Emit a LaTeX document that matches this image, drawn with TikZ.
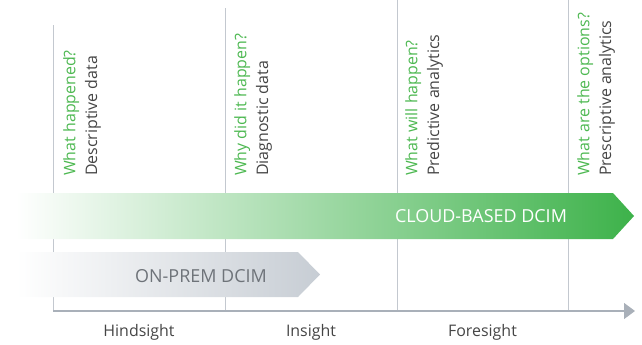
\documentclass[tikz,border=0pt]{standalone}
\usepackage{fontspec}
\setmainfont{Open Sans}
\usetikzlibrary{arrows.meta}

\definecolor{dcimgreen}{HTML}{3DB24A}
\definecolor{qgreen}{HTML}{4DB851}
\definecolor{txtgray}{HTML}{454545}
\definecolor{prembar}{HTML}{C7CDD4}
\definecolor{premtxt}{HTML}{6E7379}
\definecolor{gridline}{HTML}{C3C8CF}
\definecolor{axisgray}{HTML}{A9B0B9}

\begin{document}
\begin{tikzpicture}[x=1bp, y=-1bp,
    qlabel/.style={rotate=90, align=left, inner sep=0pt, anchor=north west, text=txtgray, font=\fontsize{16}{22}\selectfont},
    stage/.style={text=txtgray, font=\fontsize{16}{20}\selectfont},
    grid/.style={draw=gridline, line width=0.9bp}]
        \useasboundingbox (0,0) rectangle (642,344);

        \coordinate (t1) at (53,25);
        \coordinate (t2) at (225,8);
        \coordinate (t3) at (397,0);
        \coordinate (t4) at (568,0);
        \coordinate (b1) at (53,311);
        \coordinate (b2) at (225,311);
        \coordinate (b3) at (397,311);
        \coordinate (b4) at (568,311);
        \coordinate (axisend) at (635,311);

        \draw[grid] (t1) -- (b1);
        \draw[grid] (t2) -- (b2);
        \draw[grid] (t3) -- (b3);
        \draw[grid] (t4) -- (b4);
        \draw[draw=axisgray, line width=1.2bp, -{Triangle[length=11bp, width=16bp]}] (b1) -- (axisend);

        \shade[left color=white, right color=dcimgreen] (16,193) -- (613,193) -- (634,216) -- (613,239) -- (16,239) -- cycle;
        \shade[left color=white, right color=prembar] (16,252) -- (298,252) -- (320,274.5) -- (298,297) -- (16,297) -- cycle;

        \node[text=white, font=\fontsize{18}{20}\selectfont] (cloud) at (481,216) {CLOUD-BASED DCIM};
        \node[text=premtxt, font=\fontsize{18}{20}\selectfont] (onprem) at (201,276) {ON-PREM DCIM};

        \node[qlabel] (q1) at (63,176) {\textcolor{qgreen}{What happened?}\\Descriptive data};
        \node[qlabel] (q2) at (234,176) {\textcolor{qgreen}{Why did it happen?}\\Diagnostic data};
        \node[qlabel] (q3) at (405,176) {\textcolor{qgreen}{What will happen?}\\Predictive analytics};
        \node[qlabel] (q4) at (577,176) {\textcolor{qgreen}{What are the options?}\\Prescriptive analytics};

        \node[stage] (hind) at (139,332) {Hindsight};
        \node[stage] (ins) at (311,332) {Insight};
        \node[stage] (fore) at (482.5,332) {Foresight};

    \end{tikzpicture}
\end{document}
